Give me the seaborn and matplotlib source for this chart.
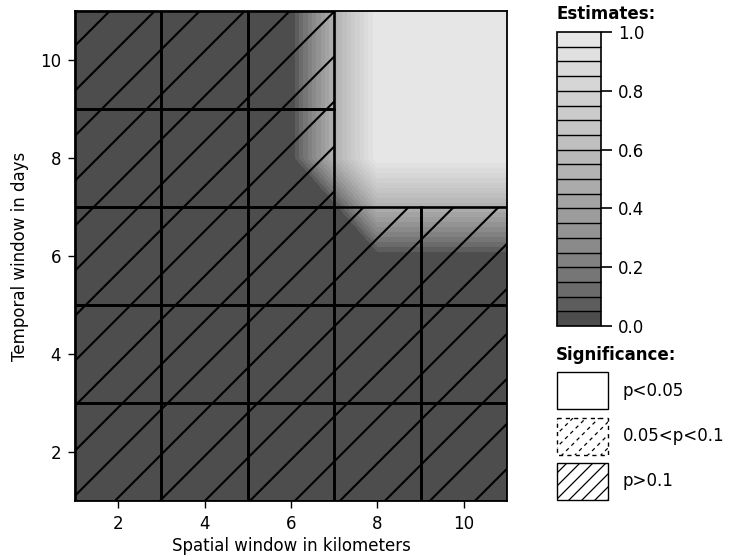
import numpy as np
import pandas as pd
import matplotlib
matplotlib.use("Agg")
import matplotlib.pyplot as plt
import seaborn as sns
from matplotlib.patches import Rectangle
from matplotlib.collections import LineCollection
from matplotlib.transforms import IdentityTransform

# windows (km / days)
spatial_km = [1, 2, 3, 4, 5, 6, 7, 8, 9, 10, 11]
temporal_days = [1, 2, 3, 4, 5, 6, 7, 8, 9, 10, 11]

# estimates, one row per temporal window (1 day first)
estimates = [
    [0, 0, 0, 0, 0, 0, 0, 0, 0, 0, 0],
    [0, 0, 0, 0, 0, 0, 0, 0, 0, 0, 0],
    [0, 0, 0, 0, 0, 0, 0, 0, 0, 0, 0],
    [0, 0, 0, 0, 0, 0, 0, 0, 0, 0, 0],
    [0, 0, 0, 0, 0, 0, 0, 0, 0, 0, 0],
    [0, 0, 0, 0, 0, 0, 0, 0, 0, 0, 0],
    [0, 0, 0, 0, 0, 0, 0, 0.5, 0.5, 0.5, 0.5],
    [0, 0, 0, 0, 0, 0, 0.5, 1, 1, 1, 1],
    [0, 0, 0, 0, 0, 0, 0.5, 1, 1, 1, 1],
    [0, 0, 0, 0, 0, 0, 0.5, 1, 1, 1, 1],
    [0, 0, 0, 0, 0, 0, 0.5, 1, 1, 1, 1],
]

# significance blocks, 2x2 windows each, one row per block row (bottom first)
block_x = [2, 4, 6, 8, 10]
block_y = [2, 4, 6, 8, 10]
block_size = 2
significance = [
    ["p>0.1", "p>0.1", "p>0.1", "p>0.1", "p>0.1"],
    ["p>0.1", "p>0.1", "p>0.1", "p>0.1", "p>0.1"],
    ["p>0.1", "p>0.1", "p>0.1", "p>0.1", "p>0.1"],
    ["p>0.1", "p>0.1", "p>0.1", "p<0.05", "p<0.05"],
    ["p>0.1", "p>0.1", "p>0.1", "p<0.05", "p<0.05"],
]
sig_labels = ["p<0.05", "0.05<p<0.1", "p>0.1"]
cbar_ticks = [0.0, 0.2, 0.4, 0.6, 0.8, 1.0]
n_levels = 20

W, H = 729, 556


def gray_colors(n, start=0.3, end=0.9, gamma=2.2):
    v = np.linspace(start ** gamma, end ** gamma, n) ** (1 / gamma)
    return [(g, g, g) for g in v]


def hatch(ax, x0, y0, w, h, spacing, phase, lw, ls="-"):
    # diagonal lines drawn in pixel space, clipped to the box
    clip = Rectangle((x0, y0), w, h, transform=ax.transData)
    (a, b), (c, d) = ax.transData.transform([(x0, y0), (x0 + w, y0 + h)])
    px0, px1 = min(a, c), max(a, c)
    py0, py1 = min(b, d), max(b, d)
    cmin = px0 + (H - py1)
    cmax = px1 + (H - py0)
    k0 = int(np.floor((cmin - phase) / spacing))
    k1 = int(np.ceil((cmax - phase) / spacing))
    span = (py1 - py0) + (px1 - px0) + 10
    segs = []
    for k in range(k0, k1 + 1):
        cc = phase + spacing * k
        xa, xb = px0 - span, px1 + span
        segs.append([(xa, xa + H - cc), (xb, xb + H - cc)])
    lc = LineCollection(segs, transform=IdentityTransform(), colors="black",
                        linewidths=lw, linestyles=ls, zorder=2.8)
    ax.add_collection(lc)
    lc.set_clip_path(clip)


sns.set_theme(style="ticks", rc={"axes.edgecolor": "black", "xtick.color": "black",
                                 "ytick.color": "black", "text.color": "black",
                                 "axes.labelcolor": "black"})
plt.rcParams["font.family"] = ["DejaVu Sans"]
plt.rcParams["font.size"] = 12

fig = plt.figure(figsize=(W / 100, H / 100), dpi=100)
ax = fig.add_axes([75 / W, 1 - 501 / H, 432 / W, 490 / H])

Z = np.array(estimates, dtype=float)
levels = np.linspace(0, 1, n_levels + 1)
cf = ax.contourf(spatial_km, temporal_days, Z, levels=levels,
                 colors=gray_colors(n_levels))
ax.set_xlim(min(spatial_km), max(spatial_km))
ax.set_ylim(min(temporal_days), max(temporal_days))
ax.set_xticks([2, 4, 6, 8, 10])
ax.set_yticks([2, 4, 6, 8, 10])
ax.tick_params(length=5, width=1, pad=5, labelsize=12)
ax.set_xlabel("Spatial window in kilometers", fontsize=12, labelpad=3)
ax.set_ylabel("Temporal window in days", fontsize=12, labelpad=8)
for sp in ax.spines.values():
    sp.set_linewidth(1.3)

# significance blocks
for j, yc in enumerate(block_y):
    for i, xc in enumerate(block_x):
        s = significance[j][i]
        if s == "p<0.05":
            continue
        x0, y0 = xc - block_size / 2, yc - block_size / 2
        ls = "-" if s == "p>0.1" else "--"
        ax.add_patch(Rectangle((x0, y0), block_size, block_size, fill=False,
                               edgecolor="black", lw=1.9, ls=ls, zorder=3))
        hatch(ax, x0, y0, block_size, block_size, 45, 30.75, 1.5, ls)

# colorbar
cax = fig.add_axes([557 / W, 1 - 326 / H, 44 / W, 294 / H])
cb = fig.colorbar(cf, cax=cax, ticks=cbar_ticks, drawedges=True, format="%.1f")
cb.dividers.set_color("black")
cb.dividers.set_linewidth(1.0)
cb.outline.set_linewidth(1.2)
cax.tick_params(length=8, width=1.2, pad=4, labelsize=12)
fig.text(556 / W, 1 - 14 / H, "Estimates:", fontsize=12, fontweight="bold",
         va="center", ha="left")

# significance legend (pixel coordinates)
lax = fig.add_axes([0, 0, 1, 1], zorder=-1)
lax.set_xlim(0, W)
lax.set_ylim(H, 0)
lax.axis("off")
lax.text(556, 355, "Significance:", fontsize=12, fontweight="bold",
         va="center", ha="left")
box_left, box_w, box_h, box_top, box_step = 557, 51, 37, 372, 45.5
for i, lab in enumerate(sig_labels):
    top = box_top + i * box_step
    ls = (0, (3, 3)) if lab == "0.05<p<0.1" else "-"
    lax.add_patch(Rectangle((box_left, top), box_w, box_h, facecolor="white",
                            edgecolor="black", lw=1.0, ls=ls))
    if lab != "p<0.05":
        hatch(lax, box_left, top, box_w, box_h, 13, 3, 0.9, ls)
    lax.text(box_left + 66, top + box_h / 2, lab, fontsize=12,
             va="center", ha="left")

fig.savefig("out.png", dpi=100)
